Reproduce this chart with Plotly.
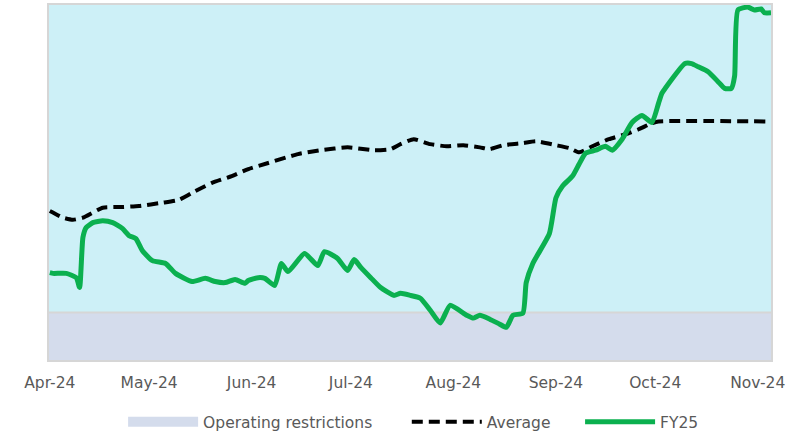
import plotly.graph_objects as go

# FY25 series
fy25_dates = ["2024-04-01", "2024-04-02", "2024-04-06", "2024-04-09", "2024-04-10", "2024-04-11",
              "2024-04-12", "2024-04-14", "2024-04-17", "2024-04-20", "2024-04-23", "2024-04-25",
              "2024-04-27", "2024-04-29", "2024-05-02", "2024-05-06", "2024-05-09", "2024-05-14",
              "2024-05-18", "2024-05-21", "2024-05-24", "2024-05-27", "2024-05-30", "2024-05-31",
              "2024-06-03", "2024-06-05", "2024-06-08", "2024-06-10", "2024-06-12", "2024-06-17",
              "2024-06-21", "2024-06-23", "2024-06-27", "2024-06-30", "2024-07-02", "2024-07-04",
              "2024-07-07", "2024-07-10", "2024-07-14", "2024-07-16", "2024-07-19", "2024-07-22",
              "2024-07-25", "2024-07-28", "2024-07-31", "2024-08-05", "2024-08-07", "2024-08-09",
              "2024-08-12", "2024-08-15", "2024-08-17", "2024-08-19", "2024-08-22", "2024-08-23",
              "2024-08-25", "2024-08-30", "2024-09-01", "2024-09-03", "2024-09-06", "2024-09-08",
              "2024-09-10", "2024-09-13", "2024-09-16", "2024-09-18", "2024-09-21", "2024-09-24",
              "2024-09-27", "2024-09-30", "2024-10-02", "2024-10-03", "2024-10-04", "2024-10-10",
              "2024-10-12", "2024-10-14", "2024-10-17", "2024-10-20", "2024-10-22", "2024-10-24",
              "2024-10-25", "2024-10-26", "2024-10-29", "2024-10-31", "2024-11-02", "2024-11-03",
              "2024-11-05"]
fy25_values = [24.6, 24.4, 24.4, 23.2, 20.4, 34.5,
               37.3, 38.7, 39.2, 38.7, 37.0, 35.0,
               34.2, 30.8, 28.0, 27.2, 24.4, 22.1,
               23.0, 22.1, 21.8, 22.7, 21.6, 22.4,
               23.2, 23.0, 21.0, 27.2, 24.9, 30.0,
               26.6, 30.5, 28.6, 25.2, 28.3, 26.1,
               23.2, 20.4, 18.2, 18.8, 18.2, 17.4,
               14.0, 10.4, 15.4, 12.6, 11.8, 12.6,
               11.5, 10.1, 9.2, 12.6, 13.2, 21.8,
               27.2, 35.6, 45.7, 49.0, 51.8, 55.2,
               58.3, 59.1, 60.2, 59.1, 62.2, 66.9,
               68.9, 66.9, 72.3, 75.1, 76.5, 83.5,
               83.5, 82.6, 81.2, 78.4, 76.5, 76.5,
               80.0, 98.6, 99.4, 98.6, 98.9, 97.8,
               97.8]

# Average series
avg_dates = ["2024-04-01", "2024-04-05", "2024-04-08", "2024-04-11", "2024-04-17", "2024-04-23",
             "2024-04-28", "2024-05-05", "2024-05-10", "2024-05-15", "2024-05-20", "2024-05-26",
             "2024-05-31", "2024-06-06", "2024-06-15", "2024-06-22", "2024-06-30", "2024-07-08",
             "2024-07-13", "2024-07-16", "2024-07-20", "2024-07-25", "2024-07-30", "2024-08-04",
             "2024-08-09", "2024-08-12", "2024-08-16", "2024-08-22", "2024-08-26", "2024-09-01",
             "2024-09-05", "2024-09-08", "2024-09-12", "2024-09-17", "2024-09-22", "2024-09-26",
             "2024-09-30", "2024-10-02", "2024-11-04"]
avg_values = [42.0, 40.1, 39.5, 40.1, 42.9, 43.1,
              43.4, 44.3, 45.1, 47.6, 49.9, 51.8,
              53.8, 55.5, 58.0, 59.1, 59.9, 59.1,
              59.4, 60.8, 62.2, 60.8, 60.2, 60.5,
              59.9, 59.4, 60.5, 61.1, 61.6, 60.5,
              59.7, 58.5, 60.2, 62.2, 63.6, 65.0,
              66.7, 67.2, 67.2]

# Operating restrictions band
restr_dates = ["2024-03-25", "2024-11-10"]
restr_values = [13.4, 13.4]

tick_dates = ["2024-04-01", "2024-05-01", "2024-06-01", "2024-07-01",
              "2024-08-01", "2024-09-01", "2024-10-01", "2024-11-01"]
tick_labels = ["Apr-24", "May-24", "Jun-24", "Jul-24", "Aug-24", "Sep-24", "Oct-24", "Nov-24"]

CYAN = "#cdf0f7"
LAV = "#d4dcec"
GRID = "#d6d6d6"
TXT = "#595959"
GREEN = "#0bb04f"
FONT = "DejaVu Sans, sans-serif"
NB = "\u00a0"

fig = go.Figure()

fig.add_trace(go.Scatter(x=restr_dates, y=restr_values, mode="lines", fill="tozeroy",
                         fillcolor=LAV, line=dict(color=GRID, width=2),
                         showlegend=False, hoverinfo="skip"))
fig.add_trace(go.Scatter(x=[None], y=[None], mode="lines",
                         name="Operating restrictions" + NB * 6,
                         line=dict(color=LAV, width=11)))
fig.add_trace(go.Scatter(x=avg_dates, y=avg_values, mode="lines", name="Average" + NB * 5,
                         line=dict(color="black", width=4, dash="11px,6px", shape="spline", smoothing=0.5)))
fig.add_trace(go.Scatter(x=fy25_dates, y=fy25_values, mode="lines", name="FY25",
                         line=dict(color=GREEN, width=5, shape="spline", smoothing=0.5)))

fig.update_layout(
    width=808, height=433,
    margin=dict(l=49, r=37, t=3, b=73),
    paper_bgcolor="white", plot_bgcolor=CYAN,
    font=dict(family=FONT, size=15, color=TXT),
    legend=dict(orientation="h", x=0.505, xanchor="center", yref="container", y=0.025,
                yanchor="middle", itemwidth=70, font=dict(size=15.5, color=TXT),
                traceorder="normal"),
    xaxis=dict(type="date", range=["2024-03-31 18:00", "2024-11-05"],
               tickvals=tick_dates, ticktext=tick_labels, showgrid=False, zeroline=False,
               showline=True, linecolor=GRID, linewidth=2, mirror=True,
               ticks="", ticklabelstandoff=7, tickfont=dict(size=15.5, color=TXT)),
    yaxis=dict(range=[0, 100], showticklabels=False, showgrid=False, zeroline=False,
               showline=True, linecolor=GRID, linewidth=2, mirror=True, ticks=""),
)

fig.write_html("out.html", config={"displayModeBar": False},
               post_script="document.body.style.margin='0';")
